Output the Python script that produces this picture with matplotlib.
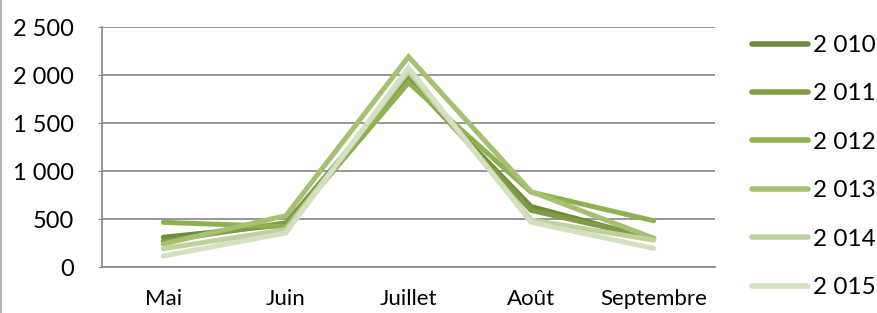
import numpy as np
import matplotlib.pyplot as plt
from matplotlib.ticker import FuncFormatter
from matplotlib.lines import Line2D

plt.rcParams['font.family'] = ['Lato', 'DejaVu Sans']

months = ["Mai", "Juin", "Juillet", "Août", "Septembre"]
years = ["2 010", "2 011", "2 012", "2 013", "2 014", "2 015"]

v2010 = [310, 440, 1950, 630, 290]
v2011 = [270, 460, 1960, 590, 300]
v2012 = [465, 420, 1920, 780, 482]
v2013 = [240, 535, 2190, 785, 300]
v2014 = [190, 390, 2040, 490, 280]
v2015 = [115, 355, 2075, 465, 195]
series = [v2010, v2011, v2012, v2013, v2014, v2015]

colors = ["#6e8b3d", "#7f9c45", "#8fb04f", "#a4c071", "#bed29e", "#d3e0c2"]


def fmt(v, pos):
    # space as thousands separator
    return "{:,}".format(int(v)).replace(",", " ")


fs = 17
fig = plt.figure(figsize=(8.78, 3.13), dpi=100)
ax = fig.add_axes([102/878, 46/313, 613/878, 240/313])

x = np.arange(len(months))
for vals, c, lab in zip(series, colors, years):
    ax.plot(x, vals, color=c, lw=3.6, label=lab, solid_joinstyle='miter',
            solid_capstyle='round')

ax.set_xlim(-0.5, len(months) - 0.5)
ax.set_ylim(0, 2500)
ax.set_yticks(np.arange(0, 2501, 500))
ax.yaxis.set_major_formatter(FuncFormatter(fmt))
ax.set_xticks(x)
ax.set_xticklabels(months)
ax.grid(axis='y', color='#868686', lw=1.2)
ax.set_axisbelow(True)

for s in ['top', 'right']:
    ax.spines[s].set_visible(False)
for s in ['left', 'bottom']:
    ax.spines[s].set_color('#868686')
    ax.spines[s].set_linewidth(1.2)

ax.tick_params(axis='y', length=3, color='#868686', pad=17, labelsize=fs)
ax.tick_params(axis='x', length=0, pad=16, labelsize=16)

leg = ax.legend(loc='upper left', bbox_to_anchor=(752/878, 1 - 35/313),
                bbox_transform=fig.transFigure, frameon=False, fontsize=17.5,
                handlelength=2.3, handletextpad=0.2, labelspacing=1.13,
                borderaxespad=0, borderpad=0)
for h in leg.get_lines():
    h.set_linewidth(4)

fig.add_artist(Line2D([1.5/878, 1.5/878], [0, 1], color='#a6a6a6', lw=1.2,
                      transform=fig.transFigure))

fig.savefig("out.png", dpi=100)
